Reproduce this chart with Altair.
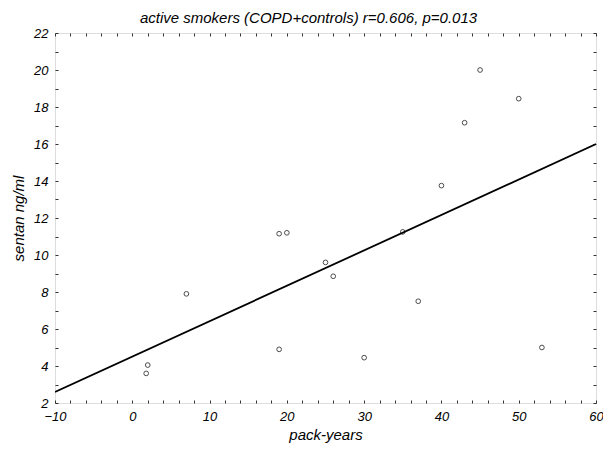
import altair as alt
import pandas as pd

# data
pack_years = [1.8, 2.0, 7.0, 19.0, 20.0, 19.0, 25.0, 26.0, 30.0, 35.0, 37.0, 40.0, 43.0, 45.0, 50.0, 53.0]
sentan = [3.6, 4.05, 7.9, 11.15, 11.2, 4.9, 9.6, 8.85, 4.45, 11.25, 7.5, 13.75, 17.15, 20.0, 18.45, 5.0]
x_labels = list(range(-10, 61, 10))
y_labels = list(range(2, 23, 2))
x_ticks = list(range(-10, 61, 2))
y_ticks = list(range(2, 23, 1))
x_domain = [-10, 60]
y_domain = [2, 22]

df = pd.DataFrame({"x": pack_years, "y": sentan})

FONT = "Liberation Sans"
TICK = "#333333"
xs = alt.Scale(domain=x_domain, nice=False, zero=False)
ys = alt.Scale(domain=y_domain, nice=False, zero=False)


def label_axis(orient, values, title, label_padding, title_padding):
    return alt.Axis(
        orient=orient, values=values, ticks=False, domain=False, grid=False,
        labelFont=FONT, labelFontStyle="italic", labelFontSize=13, labelColor="black",
        labelPadding=label_padding, labelFlush=False, labelOverlap=False,
        title=title, titleFont=FONT, titleFontStyle="italic", titleFontSize=15,
        titleFontWeight="normal", titleColor="black", titlePadding=title_padding,
    )


def tick_axis(orient, values):
    return alt.Axis(
        orient=orient, values=values, labels=False, domain=False, grid=False,
        ticks=True, tickSize=3, tickColor=TICK, tickWidth=1, offset=-3, title=None,
    )


points = alt.Chart(df).mark_point(
    shape="circle", filled=False, color="black", size=22, strokeWidth=1
).encode(
    x=alt.X("x:Q", scale=xs, axis=label_axis("bottom", x_labels, "pack-years", 7, 4)),
    y=alt.Y("y:Q", scale=ys, axis=label_axis("left", y_labels, "sentan ng/ml", 7, 7)),
)

line = alt.Chart(df).transform_regression(
    "x", "y", extent=x_domain
).mark_line(color="black", strokeWidth=1.8, clip=True).encode(
    x=alt.X("x:Q", scale=xs, axis=tick_axis("bottom", x_ticks)),
    y=alt.Y("y:Q", scale=ys, axis=tick_axis("left", y_ticks)),
)

ghost = alt.Chart(df).mark_point(opacity=0).encode(
    x=alt.X("x:Q", scale=xs, axis=tick_axis("top", x_ticks)),
    y=alt.Y("y:Q", scale=ys, axis=tick_axis("right", y_ticks)),
)

chart = alt.layer(points, line, ghost).resolve_axis(
    x="independent", y="independent"
).properties(
    width=541,
    height=370,
    autosize=alt.AutoSizeParams(type="none"),
    padding={"left": 47, "top": 25, "right": 7, "bottom": 45},
    title=alt.TitleParams(
        "active smokers (COPD+controls) r=0.606, p=0.013",
        font=FONT, fontSize=15, fontStyle="italic", fontWeight="normal",
        color="black", anchor="middle", dx=-17, offset=-11, baseline="alphabetic",
    ),
).configure_view(
    stroke="#3a3a3a", strokeWidth=1.5
).configure(background="white")

chart.save("out.html", embed_options={"renderer": "svg", "actions": False})
